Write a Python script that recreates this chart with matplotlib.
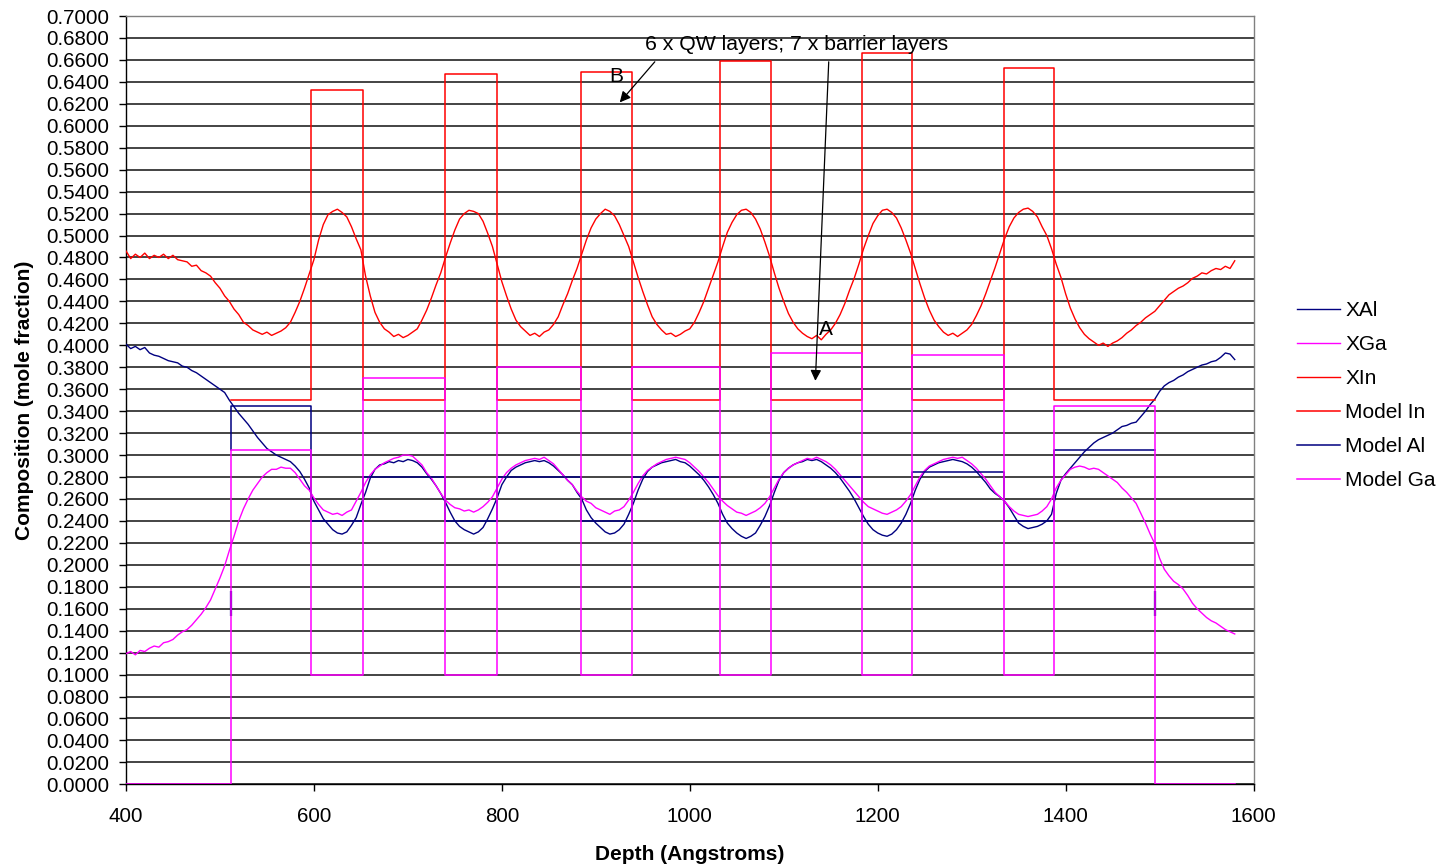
import numpy as np
import matplotlib
matplotlib.use("Agg")
import matplotlib.pyplot as plt

plt.rcParams['font.family'] = ['Liberation Sans', 'DejaVu Sans']

# ---------------- data ----------------
depth = np.arange(400, 1581, 5)   # sampling grid (Angstroms)

x_al = [
    0.401, 0.397, 0.399, 0.396, 0.398, 0.393, 0.391, 0.390, 0.388, 0.386,
    0.385, 0.384, 0.381, 0.380, 0.377, 0.375, 0.372, 0.369, 0.366, 0.363,
    0.360, 0.357, 0.350, 0.344, 0.338, 0.333, 0.328, 0.322, 0.316, 0.311,
    0.306, 0.303, 0.300, 0.298, 0.296, 0.294, 0.290, 0.285, 0.278, 0.270,
    0.258, 0.250, 0.242, 0.237, 0.232, 0.229, 0.228, 0.230, 0.236, 0.243,
    0.255, 0.266, 0.279, 0.287, 0.291, 0.292, 0.294, 0.293, 0.295, 0.294,
    0.296, 0.295, 0.293, 0.289, 0.283, 0.278, 0.272, 0.265, 0.257, 0.248,
    0.240, 0.235, 0.232, 0.230, 0.228, 0.230, 0.234, 0.242, 0.251, 0.261,
    0.273, 0.280, 0.286, 0.289, 0.291, 0.293, 0.294, 0.295, 0.294, 0.295,
    0.293, 0.290, 0.286, 0.282, 0.277, 0.273, 0.266, 0.260, 0.250, 0.243,
    0.238, 0.234, 0.230, 0.228, 0.229, 0.232, 0.237, 0.246, 0.256, 0.268,
    0.278, 0.285, 0.289, 0.291, 0.293, 0.294, 0.295, 0.296, 0.294, 0.293,
    0.290, 0.286, 0.282, 0.277, 0.271, 0.264, 0.256, 0.246, 0.238, 0.233,
    0.229, 0.226, 0.224, 0.226, 0.229, 0.236, 0.244, 0.254, 0.266, 0.277,
    0.284, 0.288, 0.291, 0.293, 0.294, 0.296, 0.295, 0.296, 0.294, 0.291,
    0.288, 0.284, 0.279, 0.273, 0.267, 0.260, 0.252, 0.244, 0.237, 0.232,
    0.229, 0.227, 0.226, 0.228, 0.232, 0.238, 0.246, 0.256, 0.268, 0.278,
    0.285, 0.289, 0.291, 0.293, 0.294, 0.295, 0.296, 0.295, 0.294, 0.292,
    0.289, 0.285, 0.280, 0.275, 0.269, 0.265, 0.262, 0.258, 0.252, 0.245,
    0.238, 0.235, 0.233, 0.234, 0.235, 0.237, 0.240, 0.246, 0.265, 0.277,
    0.283, 0.288, 0.293, 0.298, 0.303, 0.307, 0.311, 0.314, 0.316, 0.318,
    0.320, 0.323, 0.326, 0.327, 0.329, 0.330, 0.335, 0.340, 0.346, 0.351,
    0.358, 0.363, 0.366, 0.368, 0.371, 0.373, 0.376, 0.378, 0.380, 0.382,
    0.383, 0.385, 0.386, 0.389, 0.393, 0.392, 0.387,
]

x_ga = [
    0.119, 0.121, 0.118, 0.122, 0.121, 0.124, 0.126, 0.125, 0.129, 0.130,
    0.132, 0.136, 0.139, 0.141, 0.145, 0.150, 0.155, 0.161, 0.168, 0.178,
    0.188, 0.199, 0.213, 0.226, 0.240, 0.251, 0.260, 0.268, 0.274, 0.280,
    0.284, 0.287, 0.287, 0.289, 0.288, 0.288, 0.284, 0.278, 0.272, 0.268,
    0.261, 0.255, 0.250, 0.248, 0.246, 0.247, 0.245, 0.248, 0.250, 0.258,
    0.266, 0.275, 0.282, 0.287, 0.290, 0.293, 0.295, 0.297, 0.298, 0.300,
    0.300, 0.299, 0.295, 0.291, 0.284, 0.279, 0.272, 0.265, 0.259, 0.255,
    0.252, 0.251, 0.249, 0.250, 0.248, 0.250, 0.253, 0.257, 0.262, 0.270,
    0.278, 0.284, 0.288, 0.291, 0.293, 0.295, 0.296, 0.297, 0.296, 0.298,
    0.295, 0.292, 0.287, 0.282, 0.277, 0.273, 0.267, 0.262, 0.258, 0.256,
    0.252, 0.250, 0.248, 0.246, 0.249, 0.250, 0.253, 0.259, 0.266, 0.274,
    0.281, 0.286, 0.289, 0.292, 0.294, 0.296, 0.297, 0.298, 0.297, 0.296,
    0.293, 0.289, 0.285, 0.280, 0.275, 0.269, 0.263, 0.258, 0.254, 0.251,
    0.248, 0.247, 0.245, 0.247, 0.249, 0.252, 0.256, 0.262, 0.270, 0.278,
    0.284, 0.288, 0.291, 0.293, 0.295, 0.297, 0.296, 0.298, 0.296, 0.294,
    0.291, 0.287, 0.282, 0.277, 0.272, 0.267, 0.262, 0.257, 0.253, 0.251,
    0.249, 0.247, 0.246, 0.248, 0.250, 0.253, 0.258, 0.264, 0.272, 0.280,
    0.286, 0.290, 0.292, 0.294, 0.296, 0.297, 0.298, 0.297, 0.298, 0.295,
    0.292, 0.288, 0.283, 0.278, 0.272, 0.266, 0.262, 0.258, 0.253, 0.249,
    0.246, 0.245, 0.244, 0.245, 0.246, 0.249, 0.253, 0.260, 0.270, 0.277,
    0.282, 0.287, 0.289, 0.290, 0.289, 0.287, 0.288, 0.287, 0.284, 0.281,
    0.278, 0.275, 0.270, 0.266, 0.261, 0.256, 0.247, 0.238, 0.228, 0.219,
    0.206, 0.196, 0.190, 0.185, 0.182, 0.178, 0.172, 0.165, 0.160, 0.156,
    0.152, 0.149, 0.147, 0.144, 0.141, 0.139, 0.137,
]

x_in = [
    0.486, 0.479, 0.483, 0.480, 0.484, 0.479, 0.482, 0.480, 0.483, 0.479,
    0.482, 0.478, 0.477, 0.476, 0.472, 0.473, 0.468, 0.466, 0.463, 0.457,
    0.452, 0.445, 0.440, 0.433, 0.428, 0.421, 0.418, 0.414, 0.412, 0.410,
    0.412, 0.409, 0.411, 0.413, 0.416, 0.421, 0.430, 0.440, 0.452, 0.465,
    0.478, 0.496, 0.510, 0.519, 0.522, 0.524, 0.521, 0.517, 0.508, 0.497,
    0.487, 0.463, 0.445, 0.430, 0.421, 0.415, 0.412, 0.408, 0.410, 0.407,
    0.409, 0.412, 0.415, 0.423, 0.432, 0.443, 0.455, 0.466, 0.480, 0.493,
    0.505, 0.515, 0.520, 0.523, 0.522, 0.520, 0.513, 0.502, 0.490, 0.474,
    0.458, 0.445, 0.433, 0.423, 0.417, 0.413, 0.409, 0.411, 0.408, 0.412,
    0.414, 0.419, 0.426, 0.437, 0.447, 0.459, 0.470, 0.483, 0.496, 0.507,
    0.515, 0.520, 0.524, 0.522, 0.518, 0.510, 0.500, 0.490, 0.476, 0.462,
    0.449, 0.437, 0.426, 0.419, 0.414, 0.410, 0.411, 0.408, 0.410, 0.413,
    0.415, 0.421, 0.430, 0.440, 0.452, 0.464, 0.476, 0.490, 0.503, 0.512,
    0.519, 0.523, 0.524, 0.521, 0.515, 0.506, 0.494, 0.481, 0.466, 0.452,
    0.440, 0.429, 0.421, 0.415, 0.411, 0.408, 0.406, 0.409, 0.405, 0.410,
    0.414, 0.420, 0.428, 0.438, 0.450, 0.461, 0.474, 0.488, 0.500, 0.511,
    0.518, 0.523, 0.524, 0.521, 0.516, 0.507, 0.496, 0.484, 0.470, 0.456,
    0.443, 0.432, 0.423, 0.417, 0.412, 0.409, 0.411, 0.408, 0.411, 0.414,
    0.419, 0.427, 0.436, 0.447, 0.459, 0.471, 0.484, 0.497, 0.508, 0.516,
    0.521, 0.524, 0.525, 0.522, 0.517, 0.508, 0.500, 0.488, 0.474, 0.462,
    0.447, 0.434, 0.424, 0.416, 0.410, 0.406, 0.403, 0.400, 0.402, 0.399,
    0.402, 0.404, 0.407, 0.411, 0.414, 0.418, 0.421, 0.425, 0.428, 0.431,
    0.436, 0.441, 0.446, 0.449, 0.452, 0.454, 0.457, 0.461, 0.463, 0.466,
    0.465, 0.468, 0.470, 0.469, 0.472, 0.470, 0.477,
]

# model layer stack: 7 barriers + 6 quantum wells
layer_edges = [512, 597, 652, 740, 795, 884, 939, 1032, 1086, 1183, 1237, 1334, 1388, 1495]
model_in = [0.350, 0.633, 0.350, 0.647, 0.350, 0.649, 0.350, 0.659, 0.350, 0.666, 0.350, 0.653, 0.350]
model_al = [0.345, 0.240, 0.280, 0.240, 0.280, 0.240, 0.280, 0.240, 0.280, 0.240, 0.285, 0.240, 0.305]
model_ga = [0.305, 0.100, 0.370, 0.100, 0.380, 0.100, 0.380, 0.100, 0.393, 0.100, 0.391, 0.100, 0.345]
depth_range = [400, 1580]
ga_outside = 0.0
al_start = 0.305
edge_marks = [512, 1495]
edge_mark_lo, edge_mark_hi = 0.153, 0.176

y_ticks = np.round(np.arange(0, 0.7001, 0.02), 2)
x_ticks = [400, 600, 800, 1000, 1200, 1400, 1600]

NAVY = '#000080'
MAG = '#FF00FF'
RED = '#FF0000'


def steps(edges, levels):
    xs, ys = [], []
    for i, lv in enumerate(levels):
        xs += [edges[i], edges[i + 1]]
        ys += [lv, lv]
    return xs, ys


in_x, in_y = steps(layer_edges, model_in)
al_x, al_y = steps(layer_edges, model_al)
al_x = [layer_edges[0]] + al_x
al_y = [al_start] + al_y
ga_x, ga_y = steps(layer_edges, model_ga)
ga_x = [depth_range[0], layer_edges[0]] + ga_x + [layer_edges[-1], depth_range[1]]
ga_y = [ga_outside, ga_outside] + ga_y + [ga_outside, ga_outside]

# ---------------- figure ----------------
fig = plt.figure(figsize=(14.43, 8.66), dpi=100)
ax = fig.add_axes([0.0873, 0.0943, 0.7814, 0.8872])

lw_d = 1.0
lw_m = 1.1
ax.plot(depth, x_al, color=NAVY, lw=lw_d, label='XAl', zorder=3)
ax.plot(depth, x_ga, color=MAG, lw=lw_d, label='XGa', zorder=3)
ax.plot(depth, x_in, color=RED, lw=lw_d, label='XIn', zorder=3)
ax.plot(in_x, in_y, color=RED, lw=lw_m, label='Model In', zorder=4)
ax.plot(al_x, al_y, color=NAVY, lw=lw_m, label='Model Al', zorder=4)
ax.vlines(edge_marks, edge_mark_lo, edge_mark_hi, color=NAVY, lw=1.6, zorder=4)
ax.plot(ga_x, ga_y, color=MAG, lw=lw_m, label='Model Ga', zorder=5)

ax.set_xlim(400, 1600)
ax.set_ylim(0, 0.7)
ax.set_xticks(x_ticks)
ax.set_yticks(y_ticks)
ax.set_yticklabels([f'{v:.4f}' for v in y_ticks])
ax.tick_params(axis='both', direction='out', length=5, width=1, colors='black',
               labelsize=14.8)
ax.tick_params(axis='y', pad=7)
ax.tick_params(axis='x', pad=11)
ax.grid(axis='y', color='#111111', lw=1.1, zorder=1)
ax.set_axisbelow(True)
for s in ['top', 'right']:
    ax.spines[s].set_color('#808080')
    ax.spines[s].set_linewidth(1.0)
for s in ['left', 'bottom']:
    ax.spines[s].set_color('black')
    ax.spines[s].set_linewidth(1.0)

ax.set_xlabel('Depth (Angstroms)', fontsize=15, fontweight='bold', labelpad=14)
ax.set_ylabel('Composition (mole fraction)', fontsize=15, fontweight='bold', labelpad=9)

# annotations
ax.text(1114, 0.6745, '6 x QW layers; 7 x barrier layers', fontsize=15.3,
        ha='center', va='center', zorder=6)
arrow_kw = dict(arrowstyle='-|>', color='black', lw=0.9, mutation_scale=16,
                shrinkA=0, shrinkB=0)
ax.annotate('', xy=(925.5, 0.6213), xytext=(962.8, 0.6583), arrowprops=arrow_kw, zorder=6)
ax.annotate('', xy=(1133.7, 0.3676), xytext=(1147.9, 0.6583), arrowprops=arrow_kw, zorder=6)
ax.text(922, 0.6447, 'B', fontsize=15, ha='center', va='center', zorder=6)
ax.text(1145.4, 0.4147, 'A', fontsize=15, ha='center', va='center', zorder=6)

leg = fig.legend(loc='center left', bbox_to_anchor=(1297 / 1443, 1 - 395.5 / 866),
                 frameon=False, fontsize=15, handlelength=2.07, handletextpad=0.25,
                 labelspacing=0.72, borderpad=0, borderaxespad=0)

fig.savefig('out.png', dpi=100)
print(len(depth), len(x_al), len(x_ga), len(x_in))
